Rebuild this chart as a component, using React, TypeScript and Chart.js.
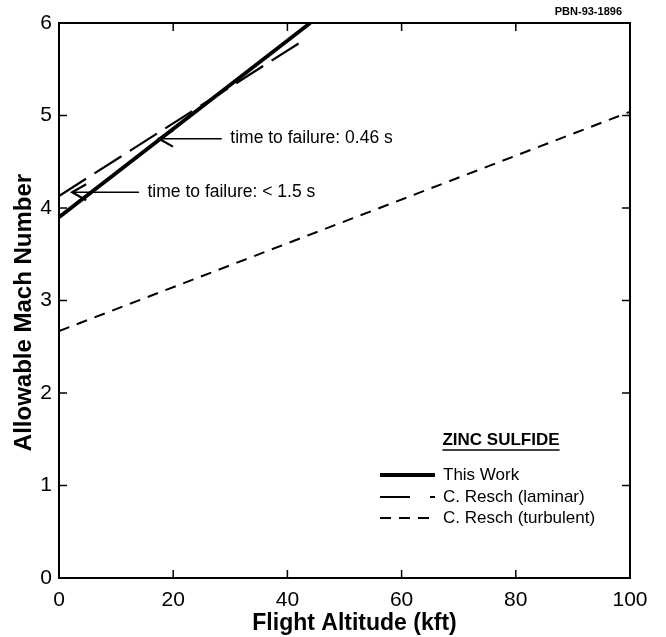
import React, { useEffect, useRef } from "react";
import { Chart, registerables } from "chart.js";
Chart.register(...registerables);

const thisWorkX = [0, 44];
const thisWorkY = [3.9, 6.0];
const laminarX = [0, 42.5];
const laminarY = [4.13, 5.8];
const turbulentX = [0, 100];
const turbulentY = [2.67, 5.04];
const xTickValues = [0, 20, 40, 60, 80, 100];
const yTickValues = [0, 1, 2, 3, 4, 5, 6];
const seriesLabels = ["This Work", "C. Resch (laminar)", "C. Resch (turbulent)"];
const legendTitle = "ZINC SULFIDE";
const docId = "PBN-93-1896";
const xTitle = "Flight Altitude (kft)";
const yTitle = "Allowable Mach Number";
const annotationTexts = ["time to failure: 0.46 s", "time to failure: < 1.5 s"];
const annotationHeadX = [17.5, 2.3];
const annotationTailX = [28.5, 14];
const annotationTextX = [30, 15.5];
const annotationY = [4.75, 4.17];

const FONT = "'Liberation Sans', Arial, Helvetica, sans-serif";

const toPoints = (xs: number[], ys: number[]) => xs.map((x, i) => ({ x, y: ys[i] }));

const framePlugin = {
  id: "frame",
  afterDraw(chart: any) {
    const { ctx, chartArea } = chart;
    const { left, right, top, bottom } = chartArea;
    const xs = chart.scales.x;
    const ys = chart.scales.y;
    ctx.save();
    ctx.strokeStyle = "#000";
    ctx.fillStyle = "#000";
    ctx.lineWidth = 2;
    ctx.strokeRect(left, top, right - left, bottom - top);
    ctx.lineWidth = 1.5;
    const tl = 8;
    xTickValues.slice(1, -1).forEach((v) => {
      const px = xs.getPixelForValue(v);
      ctx.beginPath();
      ctx.moveTo(px, bottom);
      ctx.lineTo(px, bottom - tl);
      ctx.moveTo(px, top);
      ctx.lineTo(px, top + tl);
      ctx.stroke();
    });
    yTickValues.slice(1, -1).forEach((v) => {
      const py = ys.getPixelForValue(v);
      ctx.beginPath();
      ctx.moveTo(left, py);
      ctx.lineTo(left + tl, py);
      ctx.moveTo(right, py);
      ctx.lineTo(right - tl, py);
      ctx.stroke();
    });

    // axis titles
    ctx.textBaseline = "middle";
    ctx.textAlign = "center";
    ctx.font = `bold 23px ${FONT}`;
    ctx.fillText(xTitle, (left + right) / 2 + 10, 624);
    ctx.save();
    ctx.translate(24, (top + bottom) / 2 + 12);
    ctx.rotate(-Math.PI / 2);
    ctx.font = `bold 24px ${FONT}`;
    ctx.fillText(yTitle, 0, 0);
    ctx.restore();

    // document id
    ctx.font = `bold 11px ${FONT}`;
    ctx.textAlign = "right";
    ctx.fillText(docId, right - 8, 12);

    // annotations
    ctx.font = `17.5px ${FONT}`;
    ctx.textAlign = "left";
    annotationTexts.forEach((t, i) => {
      const y = ys.getPixelForValue(annotationY[i]);
      const hx = xs.getPixelForValue(annotationHeadX[i]);
      const tx = xs.getPixelForValue(annotationTailX[i]);
      const lx = xs.getPixelForValue(annotationTextX[i]);
      ctx.lineWidth = 1.5;
      ctx.beginPath();
      ctx.moveTo(tx, y);
      ctx.lineTo(hx, y);
      ctx.stroke();
      ctx.lineWidth = 2.2;
      ctx.beginPath();
      ctx.moveTo(hx + 14, y - 8);
      ctx.lineTo(hx, y);
      ctx.lineTo(hx + 14, y + 8);
      ctx.stroke();
      ctx.fillText(t, lx, y);
    });

    // legend
    const tX = 501;
    ctx.font = `bold 17px ${FONT}`;
    ctx.textAlign = "center";
    ctx.fillText(legendTitle, tX, 440);
    const tw = ctx.measureText(legendTitle).width;
    ctx.lineWidth = 1.5;
    ctx.beginPath();
    ctx.moveTo(tX - tw / 2, 450);
    ctx.lineTo(tX + tw / 2, 450);
    ctx.stroke();
    ctx.font = `17px ${FONT}`;
    ctx.textAlign = "left";
    const rows = [475, 497, 518];
    const sampleDash = [[], [30, 20], [11, 8]];
    chart.data.datasets.forEach((ds: any, i: number) => {
      const y = rows[i];
      ctx.save();
      ctx.lineWidth = ds.borderWidth;
      ctx.setLineDash(sampleDash[i]);
      ctx.beginPath();
      ctx.moveTo(380, y);
      ctx.lineTo(435, y);
      ctx.stroke();
      ctx.restore();
      ctx.fillText(ds.label, 443, y);
    });
    ctx.restore();
  },
};

export default function App() {
  const ref = useRef<HTMLCanvasElement | null>(null);
  useEffect(() => {
    document.body.style.margin = "0";
    const canvas = ref.current;
    if (!canvas) return;
    const chart = new Chart(canvas, {
      type: "line",
      data: {
        datasets: [
          {
            label: seriesLabels[0],
            data: toPoints(thisWorkX, thisWorkY),
            borderColor: "#000",
            borderWidth: 3.8,
            borderDash: [],
            pointRadius: 0,
          },
          {
            label: seriesLabels[1],
            data: toPoints(laminarX, laminarY),
            borderColor: "#000",
            borderWidth: 2.2,
            borderDash: [32, 10],
            pointRadius: 0,
          },
          {
            label: seriesLabels[2],
            data: toPoints(turbulentX, turbulentY),
            borderColor: "#000",
            borderWidth: 2,
            borderDash: [11, 8],
            pointRadius: 0,
          },
        ],
      },
      options: {
        animation: false,
        responsive: false,
        maintainAspectRatio: false,
        layout: { padding: { top: 23, right: 36, left: 0, bottom: 0 } },
        plugins: { legend: { display: false }, tooltip: { enabled: false } },
        scales: {
          x: {
            type: "linear",
            min: 0,
            max: 100,
            afterBuildTicks: (s: any) => {
              s.ticks = xTickValues.map((v) => ({ value: v }));
            },
            afterFit: (s: any) => {
              s.height = 59;
            },
            ticks: { color: "#000", font: { family: FONT, size: 21 }, padding: 10, maxRotation: 0 },
            grid: { display: false, drawTicks: false },
            border: { display: false },
            title: { display: false, text: xTitle },
          },
          y: {
            type: "linear",
            min: 0,
            max: 6,
            afterBuildTicks: (s: any) => {
              s.ticks = yTickValues.map((v) => ({ value: v }));
            },
            afterFit: (s: any) => {
              s.width = 59;
            },
            ticks: { color: "#000", font: { family: FONT, size: 21 }, padding: 7 },
            grid: { display: false, drawTicks: false },
            border: { display: false },
            title: { display: false, text: yTitle },
          },
        },
      },
      plugins: [framePlugin],
    });
    return () => chart.destroy();
  }, []);
  return (
    <div style={{ width: 666, height: 637 }}>
      <canvas ref={ref} width={666} height={637} style={{ display: "block" }} />
    </div>
  );
}
